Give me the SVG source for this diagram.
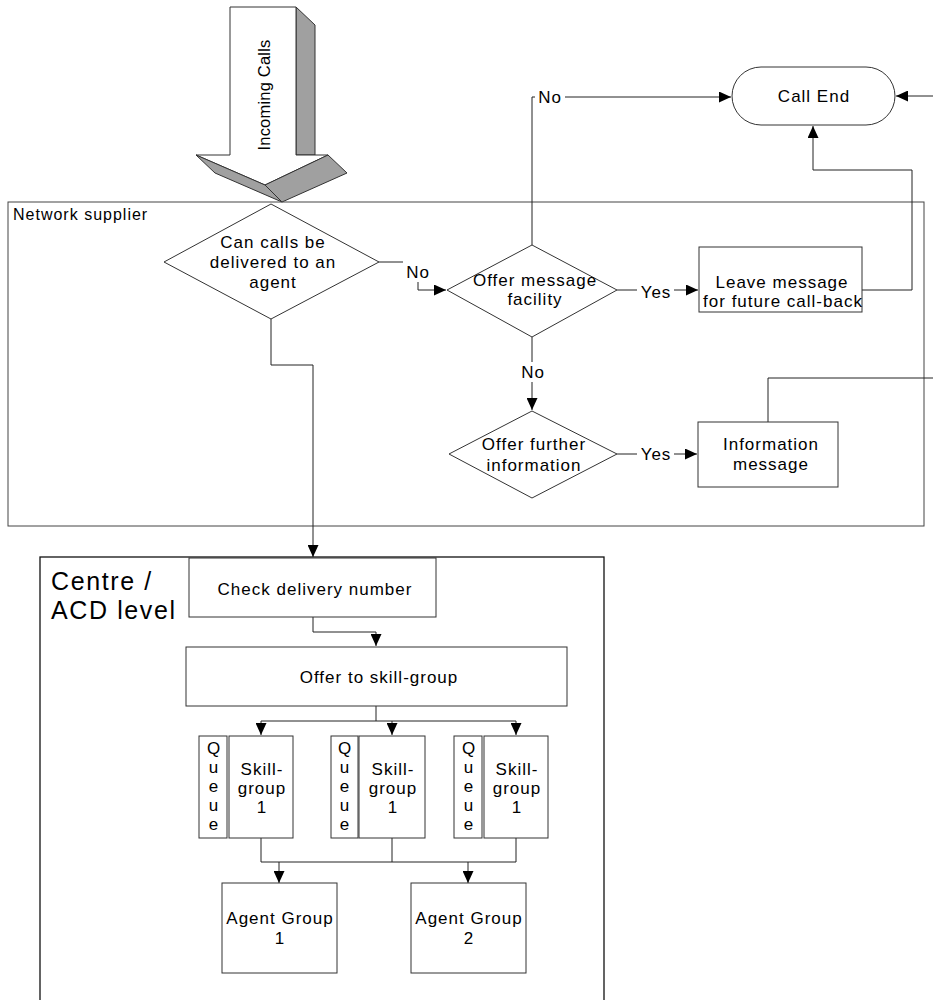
<svg xmlns="http://www.w3.org/2000/svg" width="933" height="1000" viewBox="0 0 933 1000">
<style>
.t{font-family:"Liberation Sans",Arial,sans-serif;font-size:17px;letter-spacing:1px;fill:#000;text-anchor:middle}
.box{fill:#fff;stroke:#333;stroke-width:1}
.ln{fill:none;stroke:#222;stroke-width:1}
.bg{fill:#fff;stroke:none}
</style>
<defs>
<marker id="ah" markerUnits="userSpaceOnUse" markerWidth="12" markerHeight="11" refX="12" refY="5.5" orient="auto">
<path d="M0,0 L12,5.5 L0,11 z" fill="#000"/>
</marker>
</defs>
<rect width="933" height="1000" fill="#fff"/>

<g id="incoming-arrow">
<polygon points="296,7 315,25 315,155 296,155" fill="#a0a0a0" stroke="#333"/>
<polygon points="230,7 296,7 296,155 328,155 265,185 196,155 230,155" fill="#fff" stroke="#333"/>
<polygon points="196,155 215,173 282,202 265,185" fill="#a0a0a0" stroke="#333"/>
<polygon points="265,185 328,155 347,173 282,202" fill="#a0a0a0" stroke="#333"/>
<text class="t" style="letter-spacing:0.2px;font-size:16.5px" transform="rotate(-90 270 95)" x="270" y="95">Incoming Calls</text>
</g>

<g id="network-supplier">
<rect x="8" y="202" width="916" height="324" fill="none" stroke="#444" stroke-width="1"/>
<text class="t" style="text-anchor:start;font-size:16px" x="13" y="220">Network supplier</text>
</g>

<g id="centre-acd">
<rect x="40" y="557" width="564" height="460" fill="none" stroke="#111" stroke-width="1.3"/>
<text class="t" style="text-anchor:start;font-size:25px;letter-spacing:1.6px" x="51" y="590">Centre /</text>
<text class="t" style="text-anchor:start;font-size:25px;letter-spacing:1.6px" x="51" y="619">ACD level</text>
</g>

<g id="connectors">
<path class="ln" d="M532,245 V97 H731" marker-end="url(#ah)"/>
<path class="ln" d="M379,262 H418 V290 H446" marker-end="url(#ah)"/>
<path class="ln" d="M532,337 V410" marker-end="url(#ah)"/>
<path class="ln" d="M617,290 H698" marker-end="url(#ah)"/>
<path class="ln" d="M617,454 H697" marker-end="url(#ah)"/>
<path class="ln" d="M862,290 H912 V170 H813 V126" marker-end="url(#ah)"/>
<path class="ln" d="M933,96 H896" marker-end="url(#ah)"/>
<path class="ln" d="M768,422 V378 H933"/>
<path class="ln" d="M271,319 V365 H313 V557" marker-end="url(#ah)"/>
<path class="ln" d="M313,617 V632 H376 V646" marker-end="url(#ah)"/>
<path class="ln" d="M376,706 V721 H261 V735" marker-end="url(#ah)"/>
<path class="ln" d="M376,721 H516 V735" marker-end="url(#ah)"/>
<path class="ln" d="M392,721 V735" marker-end="url(#ah)"/>
<path class="ln" d="M261,838 V862 H516 V838"/>
<path class="ln" d="M392,838 V862"/>
<path class="ln" d="M279,862 V883" marker-end="url(#ah)"/>
<path class="ln" d="M468,862 V883" marker-end="url(#ah)"/>
<rect class="bg" x="535" y="88" width="30" height="18"/>
<text class="t" x="550" y="103">No</text>
<rect class="bg" x="403" y="259" width="30" height="23"/>
<text class="t" x="418" y="278">No</text>
<rect class="bg" x="518" y="362" width="29" height="20"/>
<text class="t" x="533" y="378">No</text>
<rect class="bg" x="637" y="282" width="37" height="18"/>
<text class="t" x="656" y="298">Yes</text>
<rect class="bg" x="637" y="446" width="37" height="18"/>
<text class="t" x="656" y="460">Yes</text>
</g>

<g id="call-end">
<rect class="box" x="732" y="67" width="163" height="58" rx="29" ry="29"/>
<text class="t" x="814" y="102">Call End</text>
</g>

<g id="can-calls">
<polygon class="box" points="271,204 379,262 271,319 164,262"/>
<text class="t" x="273" y="248">Can calls be</text>
<text class="t" x="273" y="268">delivered to an</text>
<text class="t" x="273" y="288">agent</text>
</g>

<g id="offer-message">
<polygon class="box" points="532,245 617,290 532,337 447,290" style="fill:none"/>
<text class="t" x="535" y="286">Offer message</text>
<text class="t" x="535" y="305">facility</text>
</g>

<g id="leave-message">
<rect class="box" x="699" y="247" width="163" height="65"/>
<text class="t" x="782" y="288">Leave message</text>
<text class="t" x="783" y="307">for future call-back</text>
</g>

<g id="offer-further">
<polygon class="box" points="532,411 617,454 532,498 449,454" style="fill:none"/>
<text class="t" x="534" y="450">Offer further</text>
<text class="t" x="534" y="471">information</text>
</g>

<g id="information-message">
<rect class="box" x="698" y="422" width="140" height="65"/>
<text class="t" x="771" y="450">Information</text>
<text class="t" x="771" y="470">message</text>
</g>

<g id="check-delivery">
<rect class="box" x="189" y="558" width="247" height="59"/>
<text class="t" x="315" y="595">Check delivery number</text>
</g>

<g id="offer-skill">
<rect class="box" x="186" y="647" width="381" height="59"/>
<text class="t" x="379" y="683">Offer to skill-group</text>
</g>

<g id="queue-1">
<rect class="box" x="199" y="736" width="28" height="102"/>
<text class="t" x="214" y="754">Q</text><text class="t" x="214" y="773">u</text><text class="t" x="214" y="792">e</text><text class="t" x="214" y="811">u</text><text class="t" x="214" y="830">e</text>
</g>
<g id="skill-1">
<rect class="box" x="229" y="736" width="64" height="102"/>
<text class="t" x="262" y="775">Skill-</text><text class="t" x="262" y="794">group</text><text class="t" x="262" y="813">1</text>
</g>
<g id="queue-2">
<rect class="box" x="331" y="736" width="27" height="102"/>
<text class="t" x="345" y="754">Q</text><text class="t" x="345" y="773">u</text><text class="t" x="345" y="792">e</text><text class="t" x="345" y="811">u</text><text class="t" x="345" y="830">e</text>
</g>
<g id="skill-2">
<rect class="box" x="359" y="736" width="66" height="102"/>
<text class="t" x="393" y="775">Skill-</text><text class="t" x="393" y="794">group</text><text class="t" x="393" y="813">1</text>
</g>
<g id="queue-3">
<rect class="box" x="454" y="736" width="28" height="102"/>
<text class="t" x="469" y="754">Q</text><text class="t" x="469" y="773">u</text><text class="t" x="469" y="792">e</text><text class="t" x="469" y="811">u</text><text class="t" x="469" y="830">e</text>
</g>
<g id="skill-3">
<rect class="box" x="484" y="736" width="64" height="102"/>
<text class="t" x="517" y="775">Skill-</text><text class="t" x="517" y="794">group</text><text class="t" x="517" y="813">1</text>
</g>

<g id="agent-group-1">
<rect class="box" x="222" y="883" width="115" height="90"/>
<text class="t" x="280" y="924">Agent Group</text>
<text class="t" x="280" y="944">1</text>
</g>
<g id="agent-group-2">
<rect class="box" x="411" y="883" width="115" height="90"/>
<text class="t" x="469" y="924">Agent Group</text>
<text class="t" x="469" y="944">2</text>
</g>
</svg>
